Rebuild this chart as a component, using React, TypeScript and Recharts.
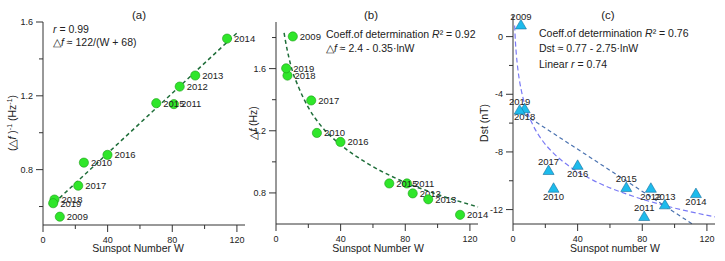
import { ComposedChart, Line, Scatter, XAxis, YAxis } from "recharts";

const FONT = "'Liberation Sans', Arial, Helvetica, sans-serif";
const INK = "#333";
const TXT = "#222";

// years shared by all three panels
const years = ["2009", "2010", "2011", "2012", "2013", "2014", "2015", "2016", "2017", "2018", "2019"];

// (a) and (b): sunspot number W vs delta f
const sunspotAB = [10.4, 25.3, 81.0, 84.6, 94.2, 113.9, 70.1, 39.9, 21.8, 7.1, 6.3];
const invDeltaF = [0.545, 0.838, 1.155, 1.25, 1.31, 1.51, 1.16, 0.88, 0.713, 0.638, 0.618];
const deltaF = [1.807, 1.186, 0.861, 0.797, 0.759, 0.659, 0.861, 1.128, 1.395, 1.555, 1.602];

// (c): sunspot number W vs Dst
const sunspotC = [4.9, 25.1, 81.2, 85.3, 94.0, 113.2, 70.1, 40.0, 22.0, 7.2, 4.1];
const dst = [0.81, -10.52, -12.48, -10.52, -11.67, -10.89, -10.47, -8.93, -9.29, -5.0, -5.1];

// fitted curves
const fitAW = [7, 120];
const fitAY = [0.62, 1.54];
const fitBW = [5, 6, 8, 10, 14, 20, 28, 40, 55, 75, 100, 125];
const fitBY = [1.83, 1.77, 1.67, 1.59, 1.48, 1.35, 1.23, 1.11, 1.0, 0.89, 0.79, 0.71];
const logCW = [1, 1.5, 2, 3, 4, 6, 8, 12, 18, 25, 35, 50, 70, 95, 125];
const logCY = [0.77, -0.35, -1.14, -2.25, -3.04, -4.16, -4.95, -6.06, -7.18, -8.08, -9.01, -9.99, -10.91, -11.75, -12.51];
const linCW = [7, 111];
const linCY = [-5.4, -13];

// ticks
const xTicks = [0, 20, 40, 60, 80, 100, 120];
const xLabels = [0, 40, 80, 120];
const yTicksA = [0.6, 0.8, 1.0, 1.2, 1.4, 1.6];
const yLabelsA = [0.8, 1.2, 1.6];
const yTicksB = [0.8, 1.0, 1.2, 1.4, 1.6, 1.8];
const yLabelsB = [0.8, 1.2, 1.6];
const yTicksC = [-12, -10, -8, -6, -4, -2, 0];
const yLabelsC = [-12, -8, -4, 0];

// where the year label goes in panel (c): above or below the triangle
const sideC: Record<string, "t" | "b"> = {
  "2009": "t", "2019": "t", "2018": "b", "2017": "t", "2010": "b", "2016": "b",
  "2015": "t", "2012": "b", "2013": "t", "2011": "t", "2014": "b",
};

const zip = (xs: number[], ys: number[]) => xs.map((x, i) => ({ x, y: ys[i] }));
const ptsA = years.map((year, i) => ({ year, x: sunspotAB[i], y: invDeltaF[i] }));
const ptsB = years.map((year, i) => ({ year, x: sunspotAB[i], y: deltaF[i] }));
const ptsC = years.map((year, i) => ({ year, x: sunspotC[i], y: dst[i] }));

function XTick({ x, y, payload }: any) {
  const major = xLabels.includes(payload.value);
  return (
    <g>
      <line x1={x} x2={x} y1={y} y2={y + (major ? 7 : 4)} stroke={INK} />
      {major && (
        <text x={x} y={y + 18} textAnchor="middle" fontSize={9} fill={TXT} fontFamily={FONT}>
          {payload.value}
        </text>
      )}
    </g>
  );
}

const yTick = (labels: number[]) => ({ x, y, payload }: any) => {
  const major = labels.some((l) => Math.abs(l - payload.value) < 1e-6);
  return (
    <g>
      <line x1={x - (major ? 7 : 4)} x2={x} y1={y} y2={y} stroke={INK} />
      {major && (
        <text x={x - 10} y={y + 3.2} textAnchor="end" fontSize={9} fill={TXT} fontFamily={FONT}>
          {String(payload.value)}
        </text>
      )}
    </g>
  );
};

function GreenDot({ cx, cy, payload }: any) {
  return (
    <g>
      <circle cx={cx} cy={cy} r={4.6} fill="#2fe62a" stroke="#1c9c18" strokeWidth={0.6} />
      <text x={cx + 7} y={cy + 3.3} fontSize={9.5} fill={TXT} fontFamily={FONT}>{payload.year}</text>
    </g>
  );
}

function BlueTri({ cx, cy, payload }: any) {
  const dy = sideC[payload.year] === "t" ? -8.5 : 8;
  return (
    <g>
      <path d={`M${cx},${cy - 5.5}L${cx + 5.5},${cy + 4}L${cx - 5.5},${cy + 4}Z`} fill="#1dbbec" stroke="#1b6f9c" strokeWidth={0.6} />
      <text x={cx} y={cy + dy + 3.3} textAnchor="middle" fontSize={9.5} fill={TXT} fontFamily={FONT}>{payload.year}</text>
    </g>
  );
}

const axisProps = { axisLine: { stroke: INK }, tickLine: false, tickSize: 0, tickMargin: 0, interval: 0 as const };

export default function App() {
  return (
    <div style={{ position: "absolute", left: 0, top: 0, width: 725, height: 261, background: "#fff" }}>
      <style>{".recharts-surface{overflow:visible}.recharts-wrapper{overflow:visible}"}</style>
      <div style={{ position: "absolute", left: 0, top: 0 }}>
        <ComposedChart width={250} height={261} margin={{ top: 22, right: 5, bottom: 0, left: 0 }}>
          <XAxis type="number" dataKey="x" domain={[0, 125]} ticks={xTicks} height={36} tick={XTick} {...axisProps} />
          <YAxis type="number" dataKey="y" domain={[0.5, 1.6]} ticks={yTicksA} width={43} tick={yTick(yLabelsA)} {...axisProps} />
          <Line data={zip(fitAW, fitAY)} dataKey="y" type="linear" stroke="#1f6e3a" strokeWidth={1.5} strokeDasharray="4 3" dot={false} isAnimationActive={false} />
          <Scatter data={ptsA} shape={GreenDot} isAnimationActive={false} />
        </ComposedChart>
      </div>
      <div style={{ position: "absolute", left: 240, top: 0 }}>
        <ComposedChart width={240} height={261} margin={{ top: 22, right: 2, bottom: 0, left: 0 }}>
          <XAxis type="number" dataKey="x" domain={[0, 125]} ticks={xTicks} height={37} tick={XTick} {...axisProps} />
          <YAxis type="number" dataKey="y" domain={[0.6, 1.9]} ticks={yTicksB} width={36} tick={yTick(yLabelsB)} {...axisProps} />
          <Line data={zip(fitBW, fitBY)} dataKey="y" type="monotone" stroke="#1f6e3a" strokeWidth={1.5} strokeDasharray="4 3" dot={false} isAnimationActive={false} />
          <Scatter data={ptsB} shape={GreenDot} isAnimationActive={false} />
        </ComposedChart>
      </div>
      <div style={{ position: "absolute", left: 480, top: 0 }}>
        <ComposedChart width={245} height={261} margin={{ top: 15, right: 10, bottom: 0, left: 0 }}>
          <XAxis type="number" dataKey="x" domain={[0, 125]} ticks={xTicks} height={37} tick={XTick} {...axisProps} />
          <YAxis type="number" dataKey="y" domain={[-13, 1.5]} ticks={yTicksC} width={33} tick={yTick(yLabelsC)} {...axisProps} />
          <Line data={zip(logCW, logCY)} dataKey="y" type="monotone" stroke="#7a7af5" strokeWidth={1.2} strokeDasharray="5 3" dot={false} isAnimationActive={false} />
          <Line data={zip(linCW, linCY)} dataKey="y" type="linear" stroke="#4a72b0" strokeWidth={1.2} strokeDasharray="4 3" dot={false} isAnimationActive={false} />
          <Scatter data={ptsC} shape={BlueTri} isAnimationActive={false} />
        </ComposedChart>
      </div>

      <svg width={725} height={261} style={{ position: "absolute", left: 0, top: 0, pointerEvents: "none" }} fontFamily={FONT} fill={TXT}>
        {/* panel titles */}
        <text x={139} y={19} textAnchor="middle" fontSize={11.5}>(a)</text>
        <text x={371} y={19} textAnchor="middle" fontSize={11.5}>(b)</text>
        <text x={608} y={19} textAnchor="middle" fontSize={11.5}>(c)</text>

        {/* axis titles */}
        <text x={138} y={252} textAnchor="middle" fontSize={10.5}>Sunspot Number W</text>
        <text x={378} y={252} textAnchor="middle" fontSize={10.5}>Sunspot Number W</text>
        <text x={615} y={252} textAnchor="middle" fontSize={10.5}>Sunspot number W</text>
        <text transform="translate(15.5,123) rotate(-90)" textAnchor="middle" fontSize={10.5}>
          (△<tspan fontStyle="italic">f</tspan> )<tspan dy={-4} fontSize={7}>-1</tspan>
          <tspan dy={4}> (Hz</tspan><tspan dy={-4} fontSize={7}>-1</tspan><tspan dy={4}>)</tspan>
        </text>
        <text transform="translate(256.5,123) rotate(-90)" textAnchor="middle" fontSize={10.5}>
          △<tspan fontStyle="italic">f</tspan> (Hz)
        </text>
        <text transform="translate(488,123) rotate(-90)" textAnchor="middle" fontSize={10.5}>Dst (nT)</text>

        {/* annotations */}
        <text x={53} y={33} fontSize={10.5}><tspan fontStyle="italic">r</tspan> = 0.99</text>
        <text x={53} y={45.5} fontSize={10.5}>△<tspan fontStyle="italic">f</tspan> ≈ 122/(W + 68)</text>

        <text x={326} y={38} fontSize={10.5}>Coeff.of determination <tspan fontStyle="italic">R</tspan>² = 0.92</text>
        <text x={326} y={52} fontSize={10.5}>△<tspan fontStyle="italic">f</tspan> ≈ 2.4 - 0.35·lnW</text>

        <text x={539} y={37} fontSize={10.5}>Coeff.of determination <tspan fontStyle="italic">R</tspan>² = 0.76</text>
        <text x={539} y={51.5} fontSize={10.5}>Dst ≈ 0.77 - 2.75·lnW</text>
        <text x={539} y={68} fontSize={10.5}>Linear <tspan fontStyle="italic">r</tspan> = 0.74</text>
      </svg>
    </div>
  );
}
